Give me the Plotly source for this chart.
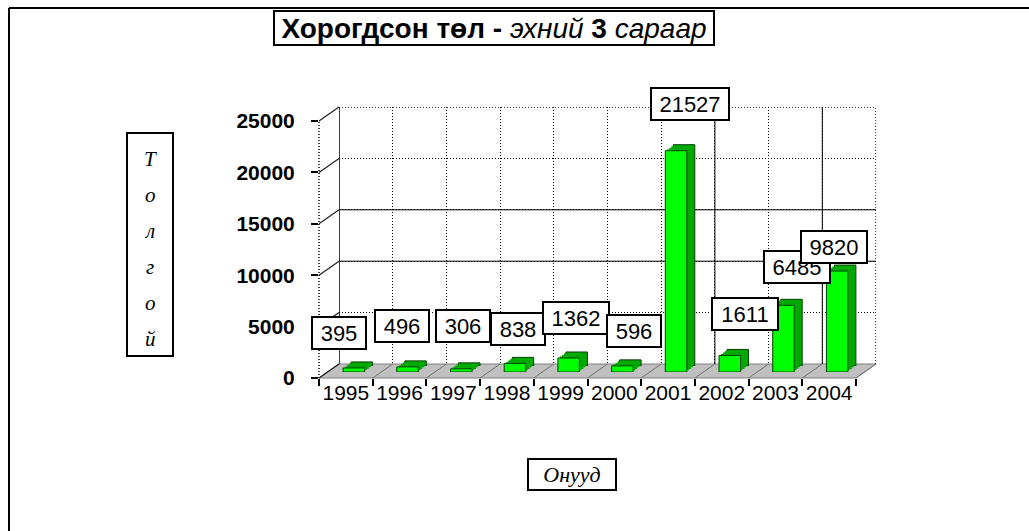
import plotly.graph_objects as go

# ---------------- data ----------------
years = ["1995", "1996", "1997", "1998", "1999", "2000", "2001", "2002", "2003", "2004"]
lost = [395, 496, 306, 838, 1362, 596, 21527, 1611, 6485, 9820]
y_ticks = [0, 5000, 10000, 15000, 20000, 25000]

title_html = "<b>Хорогдсон төл - </b><i>эхний </i><b>3</b><i> сараар</i>"
y_title_letters = ["Т", "о", "л", "г", "о", "й"]
x_title = "Онууд"

# ---------------- layout / style constants ----------------
label_dx = [-7, 2, 10, 11, 15, 20, 22, 23, 22, 5]          # px shift of value boxes
label_y = [4378, 5058, 5010, 4767, 5788, 4524, 26606, 6226, 10798, 12695]  # box centre (axis units)

W, H = 1029, 531
SANS = "Liberation Sans, Arial, sans-serif"
SERIF = "Liberation Serif, Times New Roman, serif"


def px(x):
    return x / W


def py(y):
    return 1 - y / H


FX0, FX1, FY0, FY1 = 319, 856, 378, 121   # front plane (pixels)
DX, DY = 20, -14                          # depth of the 3-D box
BAR_SHIFT = (8, -6)                       # bars sit half way back
BAR_STEPS = [(8, -6), (6, -4.5), (4, -3), (2, -1.5)]  # extrusion of each bar
YMAX = 25000
CAT_W = (FX1 - FX0) / len(years)


def vpix(v):
    return FY0 - (FY0 - FY1) * v / YMAX


fig = go.Figure()
layout_axes = {}


def add_axes(idx, sx, sy, xextra=None, yextra=None):
    xname = "xaxis" if idx == 1 else f"xaxis{idx}"
    yname = "yaxis" if idx == 1 else f"yaxis{idx}"
    xa = dict(type="category", categoryorder="array", categoryarray=years,
              range=[-0.5, len(years) - 0.5], domain=[px(FX0 + sx), px(FX1 + sx)],
              showgrid=False, zeroline=False, showticklabels=False, ticks="",
              showline=False, fixedrange=True, automargin=False,
              anchor="y" if idx == 1 else f"y{idx}")
    ya = dict(range=[0, YMAX], domain=[py(FY0 + sy), py(FY1 + sy)],
              showgrid=False, zeroline=False, showticklabels=False, ticks="",
              showline=False, fixedrange=True, automargin=False,
              anchor="x" if idx == 1 else f"x{idx}")
    if xextra:
        xa.update(xextra)
    if yextra:
        ya.update(yextra)
    layout_axes[xname] = xa
    layout_axes[yname] = ya
    return ("x" if idx == 1 else f"x{idx}"), ("y" if idx == 1 else f"y{idx}")


# 1: back wall with grid
xb, yb = add_axes(1, DX, DY,
                  xextra=dict(showgrid=True, tickson="boundaries", gridcolor="#000000",
                              griddash="1px,2px", gridwidth=1),
                  yextra=dict(showgrid=True, tickvals=y_ticks, gridcolor="#000000",
                              griddash="1px,2px", gridwidth=1))
fig.add_trace(go.Scatter(x=years, y=[None] * len(years), xaxis=xb, yaxis=yb,
                         hoverinfo="skip", showlegend=False))

# 2..5: extrusion of the bars (dark green)
idx = 2
for k, (sx, sy) in enumerate(BAR_STEPS):
    xa, ya = add_axes(idx, BAR_SHIFT[0] + sx, BAR_SHIFT[1] + sy)
    fig.add_trace(go.Bar(x=years, y=lost, xaxis=xa, yaxis=ya, width=0.4,
                         marker=dict(color="#00A800",
                                     line=dict(color="#004000", width=1 if k == 0 else 0)),
                         hoverinfo="skip", showlegend=False))
    idx += 1

# front faces of the bars
xa, ya = add_axes(idx, BAR_SHIFT[0], BAR_SHIFT[1])
fig.add_trace(go.Bar(x=years, y=lost, xaxis=xa, yaxis=ya, width=0.4,
                     marker=dict(color="#00FF00", line=dict(color="#004000", width=1)),
                     hovertemplate="%{x}: %{y}<extra></extra>", showlegend=False))
idx += 1

# front axes with ticks and labels
xf, yf = add_axes(idx, 0, 0,
                  xextra=dict(showticklabels=True, tickson="boundaries", ticks="outside",
                              ticklen=7, tickwidth=2, tickcolor="#000000", tickangle=0,
                              tickfont=dict(family=SANS, size=21, color="#000000")),
                  yextra=dict(showticklabels=True, tickvals=y_ticks, ticks="outside",
                              tickformat="d",
                              ticklen=7, tickwidth=2, tickcolor="#000000",
                              ticklabelstandoff=12,
                              tickfont=dict(family=SANS, size=21, color="#000000",
                                            weight="bold")))
fig.add_trace(go.Scatter(x=years, y=[None] * len(years), xaxis=xf, yaxis=yf,
                         hoverinfo="skip", showlegend=False))

shapes = []
# outer frame (top and left only, as in the picture)
shapes.append(dict(type="line", xref="paper", yref="paper", x0=px(9), x1=1, y0=py(8), y1=py(8),
                   line=dict(color="#000000", width=2)))
shapes.append(dict(type="line", xref="paper", yref="paper", x0=px(9), x1=px(9), y0=py(8), y1=0,
                   line=dict(color="#000000", width=2)))
# floor
floor_path = (f"M {px(FX0)} {py(FY0)} L {px(FX1)} {py(FY0)} "
              f"L {px(FX1 + DX)} {py(FY0 + DY)} L {px(FX0 + DX)} {py(FY0 + DY)} Z")
shapes.append(dict(type="path", xref="paper", yref="paper", path=floor_path,
                   fillcolor="#C0C0C0", line=dict(color="#808080", width=1), layer="below"))
for i in range(len(years) + 1):
    xx = FX0 + i * CAT_W
    shapes.append(dict(type="line", xref="paper", yref="paper",
                       x0=px(xx), y0=py(FY0), x1=px(xx + DX), y1=py(FY0 + DY),
                       line=dict(color="#707070", width=1), layer="below"))
# back wall edges and the darker grid lines
solid = dict(color="#000000", width=1.5)
dotted = dict(color="#000000", width=1.5, dash="1px,2px")
n = len(years)
shapes.append(dict(type="line", xref=xb, yref=yb, x0=-0.5, x1=-0.5, y0=0, y1=YMAX, line=solid, layer="below"))
shapes.append(dict(type="line", xref=xb, yref=yb, x0=n - 0.5, x1=n - 0.5, y0=0, y1=YMAX, line=dotted, layer="below"))
shapes.append(dict(type="line", xref=xb, yref=yb, x0=-0.5, x1=n - 0.5, y0=YMAX, y1=YMAX, line=dotted, layer="below"))
for v in (10000, 15000):
    shapes.append(dict(type="line", xref=xb, yref=yb, x0=-0.5, x1=n - 0.5, y0=v, y1=v,
                       line=dict(color="#000000", width=1), layer="below"))
for b in (6.5, 8.5):
    shapes.append(dict(type="line", xref=xb, yref=yb, x0=b, x1=b, y0=0, y1=YMAX,
                       line=dict(color="#000000", width=1), layer="below"))
# front-left dotted edge and tick connectors
shapes.append(dict(type="line", xref="paper", yref="paper", x0=px(FX0), x1=px(FX0),
                   y0=py(FY0), y1=py(FY1), line=dotted, layer="below"))
for v in y_ticks:
    ypix = vpix(v)
    shapes.append(dict(type="line", xref="paper", yref="paper",
                       x0=px(FX0), y0=py(ypix), x1=px(FX0 + DX), y1=py(ypix + DY),
                       line=dict(color="#202020", width=1.2), layer="below"))
# box around the vertical y title
shapes.append(dict(type="rect", xref="paper", yref="paper", x0=px(127), x1=px(173),
                   y0=py(356), y1=py(133), line=dict(color="#000000", width=2)))

annotations = []
annotations.append(dict(xref="paper", yref="paper", x=px(494), y=py(28), text=title_html,
                        showarrow=False, xanchor="center", yanchor="middle",
                        width=438, height=32,
                        font=dict(family=SANS, size=28, color="#000000"),
                        bgcolor="#FFFFFF", bordercolor="#000000", borderwidth=2, borderpad=0))
for k, ch in enumerate(y_title_letters):
    annotations.append(dict(xref="paper", yref="paper", x=px(150), y=py(159 + 36 * k), text=ch,
                            showarrow=False, xanchor="center", yanchor="middle",
                            font=dict(family=SERIF, size=21, color="#000000", style="italic")))
annotations.append(dict(xref="paper", yref="paper", x=px(572), y=py(474), text=x_title,
                        showarrow=False, xanchor="center", yanchor="middle",
                        width=84, height=27,
                        font=dict(family=SERIF, size=22, color="#000000", style="italic"),
                        bgcolor="#FFFFFF", bordercolor="#000000", borderwidth=2, borderpad=1))
for i, v in enumerate(lost):
    txt = str(v)
    cx = FX0 + CAT_W * (i + 0.5) + label_dx[i]
    cy = vpix(label_y[i])
    annotations.append(dict(xref="paper", yref="paper", x=px(cx), y=py(cy),
                            text=txt, showarrow=False, xanchor="center", yanchor="middle",
                            width=12 * len(txt) + 14, height=28,
                            font=dict(family=SANS, size=22, color="#000000"),
                            bgcolor="#FFFFFF", bordercolor="#000000", borderwidth=2, borderpad=1))

fig.update_layout(
    template="none",
    width=W, height=H, margin=dict(l=0, r=0, t=0, b=0, pad=0, autoexpand=False),
    paper_bgcolor="#FFFFFF", plot_bgcolor="rgba(0,0,0,0)",
    showlegend=False, bargap=0.6,
    shapes=shapes, annotations=annotations,
    **layout_axes,
)

fig.write_html("out.html", include_plotlyjs=True, full_html=True,
               config={"displayModeBar": False},
               post_script="document.body.style.margin='0';"
                           "document.body.style.overflow='hidden';"
                           "document.documentElement.style.overflow='hidden';")
